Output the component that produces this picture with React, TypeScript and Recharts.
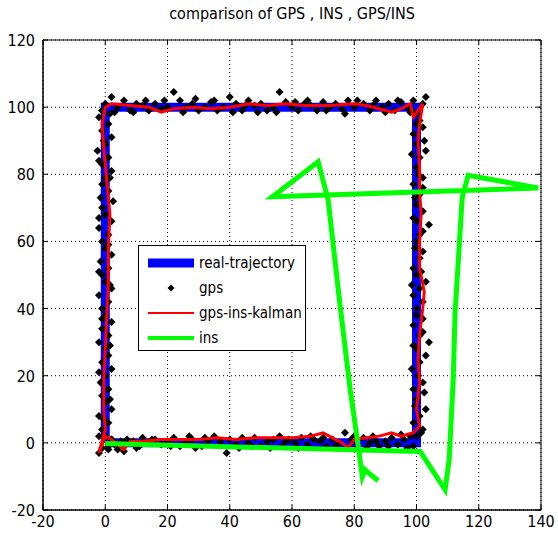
import React from 'react';
import {
  ScatterChart, Scatter, XAxis, YAxis, CartesianGrid, ReferenceArea, Legend,
} from 'recharts';

const xTicks = [-20, 0, 20, 40, 60, 80, 100, 120, 140];
const yTicks = [-20, 0, 20, 40, 60, 80, 100, 120];

// true path
const realPath = [[0, 0], [100, 0], [100, 100], [0, 100], [0, 0]];

// gps fixes, one list per side of the square
const gpsBottom = [
  [-2, -3], [-1, -1.5], [0, 2], [1, -2], [2, 1], [3, -0.5], [4, -2], [6, -2.5], [7, 1], [9, 0.5],
  [11, -1], [12, 1.5], [14, 0], [16, 1], [18, -0.5], [20, 0.5], [22, 1.5], [24, -1], [26, 0], [28, 1],
  [29, -1.5], [31, -1], [33, 0.5], [35, 2], [37, 0.5], [39, -3], [40, 1], [42, -0.5], [44, 1.5], [46, 0],
  [48, 1.5], [50, -1], [52, 0.5], [54, 1], [56, 2], [57, -1], [59, 1], [61, 0], [63, 1.5], [65, -0.5],
  [67, 1], [69, 0.5], [71, -1], [73, 1], [75, 0], [77, 3], [79, 1], [81, -1], [83, 1.5], [85, 0],
  [86, 2], [88, -1], [90, 0.5], [92, 1.5], [94, -0.5], [96, 1], [98, 2], [99, -1],
  [5, 0.5], [10, -1.5], [15, 1], [21, -1], [27, 2], [32, 1.5], [43, -1.5], [47, -1], [53, -1.5], [58, 0.5],
  [62, -1.5], [66, 2], [70, 1.5], [74, -1], [80, 2], [84, -1.5], [87, 0.5], [91, -1], [95, 2.5], [97, -1.5],
];
const gpsRight = [
  [100, 2], [102, 4], [99, 6], [101, 8], [103, 10], [100, 13], [99, 16], [102, 18], [98.5, 22], [101, 24],
  [103, 26], [100, 28], [104, 30], [101, 32], [99, 35], [102, 37], [100, 40], [102, 42], [99, 44], [101, 46],
  [103, 48], [100, 50], [99, 52], [101, 55], [102, 57], [100, 60], [101, 62], [104, 65], [99, 67], [102, 69],
  [100, 71], [101, 74], [99, 77], [102, 79], [100, 82], [101, 85], [103, 87], [100, 89], [99, 92], [102, 94],
  [101, 96], [100, 98], [102, 101], [103, 103],
  [101.5, 3], [99.5, 11], [102.5, 15], [100.5, 20], [99, 29], [102, 33], [100, 38], [98.5, 47], [101.5, 51],
  [99.5, 58], [102, 63], [100, 66], [99.5, 73], [102, 76], [100.5, 80], [98.5, 86], [102.5, 90], [100, 95], [98.5, 99],
];
const gpsTop = [
  [99, 102], [97, 100], [95, 101.5], [93, 99], [91, 101], [89, 100], [87, 102], [85, 99], [83, 101], [80, 100],
  [78, 102], [76, 99.5], [74, 101], [72, 100], [70, 101.5], [68, 99], [66, 100.5], [64, 101], [62, 99], [60, 100],
  [58, 101.5], [56, 104.5], [54, 100], [52, 99], [50, 101], [48, 100.5], [46, 102], [44, 99], [42, 101], [40, 103],
  [38, 100], [36, 99], [34, 101.5], [32, 100], [30, 99], [28, 101], [26, 100], [24, 102], [22, 104.5], [20, 100],
  [18, 99.5], [16, 101], [14, 99], [12, 100.5], [10, 101], [8, 99], [6, 102], [4, 100], [2, 103], [0, 101], [-1, 99],
  [98, 98.5], [94, 102], [90, 98.5], [86, 100.5], [81, 102], [77, 98], [71, 99], [65, 102], [61, 101.5], [55, 98.5],
  [49, 98.5], [45, 100.5], [41, 98.5], [35, 102], [29, 102.5], [25, 98.5], [19, 102], [13, 102], [9, 98.5], [3, 98.5],
];
const gpsLeft = [
  [-2, 97], [1, 95], [-1, 93], [2, 91], [0, 89], [-2.5, 87], [1, 85], [-1, 83], [2, 81], [0, 79],
  [-1, 77], [1, 75], [2.5, 72], [-1, 70], [0, 68], [2, 66], [-2, 64], [1, 62], [-1, 60], [0, 58],
  [2, 56], [-1.5, 54], [1, 52], [-1, 50], [0, 48], [2, 46], [-2, 44], [1, 42], [-1, 40], [0, 38],
  [2, 36], [-1, 34], [1, 32], [-2, 30], [0, 28], [1, 26], [-1, 24], [2, 22], [0, 20], [-1.5, 18],
  [1, 16], [-1, 14], [0, 12], [2, 10], [-2, 8], [1, 6], [-1, 4], [0, 2], [2, 1],
  [-1, 99], [1.5, 98], [-0.5, 90], [-2, 84], [1.5, 79], [-1.5, 73], [-2, 67], [1, 59], [-2, 51], [1.5, 47],
  [-1, 37], [1.5, 29], [-2, 21], [1.5, 13], [-0.5, 7], [-2, 2], [1, -1],
];

// filtered estimate
const kalmanPath = [
  [-2, -3], [0, 2], [2, 1], [4, -0.5], [6, -2], [8, 0.5], [12, 0.5], [18, 1], [24, 1], [30, 1],
  [36, 1.5], [42, 1], [48, 1.5], [54, 1.5], [60, 1.5], [66, 2], [70, 3], [73, 1.5], [76, 0], [78, -1.5],
  [80, 1], [84, 1.5], [88, 2], [92, 3], [95, 2], [99, 3], [101, 5], [100, 10], [101, 18], [100.5, 25],
  [101, 32], [102, 40], [102.5, 45], [101, 52], [101, 60], [101.5, 68], [101, 75], [101, 82], [100.5, 90], [101, 95],
  [102, 101], [99, 97], [98, 101], [95, 99.5], [92, 98.5], [88, 99.5], [84, 100.5], [80, 101], [72, 100.5], [64, 100.5],
  [58, 101], [52, 100.5], [46, 101], [40, 100], [34, 99.5], [28, 100], [22, 99.5], [18, 98.5], [14, 100], [8, 100.5],
  [2, 101], [0, 100], [-1, 95], [-0.5, 88], [0.5, 78], [1.5, 68], [1, 58], [1, 48], [0.5, 38], [0, 28],
  [-0.5, 18], [-0.5, 10], [0, 4], [-2, -3],
];

// ins only
const insPath = [
  [0, -0.2], [101.2, -2.6], [109.2, -14], [110.5, -5], [111.8, 18.8], [112.4, 38.7], [114.7, 73.2], [116.6, 79.7],
  [121.4, 78.9], [139.1, 75.9], [53.7, 73.3], [68.4, 83.7], [71.6, 72.4], [75.5, 40.5], [78.7, 15.8], [81, 0.9],
  [82.6, -10.1], [83.5, -8], [84.5, -8.9], [87.7, -11.3],
];

const pts = (a: number[][]) => a.map(([x, y]) => ({ x, y }));
const gpsData = pts([...gpsBottom, ...gpsRight, ...gpsTop, ...gpsLeft]);

const FONT = '"Liberation Sans Narrow", "DejaVu Sans Condensed", "Liberation Sans", Arial, sans-serif';
const noDot = () => <g />;

const Diamond = (props: any) => {
  const { cx, cy } = props;
  const r = 4;
  return <polygon points={`${cx},${cy - r} ${cx + r},${cy} ${cx},${cy + r} ${cx - r},${cy}`} fill="#000" />;
};

const XTick = (props: any) => {
  const { x, y, payload } = props;
  return (
    <g>
      <line x1={x} y1={510} x2={x} y2={505} stroke="#000" />
      <line x1={x} y1={40} x2={x} y2={45} stroke="#000" />
      <text x={x} y={y + 13} textAnchor="middle" fontSize={16} fontFamily={FONT} fill="#000">{payload.value}</text>
    </g>
  );
};

const YTick = (props: any) => {
  const { x, y, payload } = props;
  return (
    <g>
      <line x1={43} y1={y} x2={48} y2={y} stroke="#000" />
      <line x1={541} y1={y} x2={536} y2={y} stroke="#000" />
      <text x={x} y={y + 6} textAnchor="end" fontSize={16} fontFamily={FONT} fill="#000">{payload.value}</text>
    </g>
  );
};

const legendItems = [
  { name: 'real-trajectory', kind: 'line', color: '#0000ff', w: 9 },
  { name: 'gps', kind: 'dot', color: '#000', w: 0 },
  { name: 'gps-ins-kalman', kind: 'line', color: '#ff0000', w: 2 },
  { name: 'ins', kind: 'line', color: '#00ff00', w: 4 },
];

const LegendBox = () => (
  <div style={{
    width: 168, height: 106, border: '1px solid #000', background: '#fff',
    fontFamily: FONT, fontSize: 15, boxSizing: 'border-box', paddingTop: 4,
  }}>
    {legendItems.map((it) => (
      <div key={it.name} style={{ display: 'flex', alignItems: 'center', height: 25 }}>
        <svg width={60} height={20}>
          {it.kind === 'line' ? (
            <line x1={9} y1={10} x2={55} y2={10} stroke={it.color} strokeWidth={it.w} />
          ) : (
            <polygon points="32,6.5 35.5,10 32,13.5 28.5,10" fill="#000" />
          )}
        </svg>
        <span>{it.name}</span>
      </div>
    ))}
  </div>
);

export default function App() {
  return (
    <div style={{ position: 'absolute', left: 0, top: 0, width: 558, height: 535, background: '#fff' }}>
      <div style={{
        position: 'absolute', left: 43, width: 498, top: 4, textAlign: 'center',
        fontFamily: FONT, fontSize: 16, color: '#000',
      }}>
        comparison of GPS , INS , GPS/INS
      </div>
      <ScatterChart width={558} height={535} margin={{ top: 40, right: 17, bottom: 0, left: 0 }}>
        <CartesianGrid stroke="#000" strokeDasharray="1 3" />
        <XAxis type="number" dataKey="x" domain={[-20, 140]} ticks={xTicks} height={25}
          allowDataOverflow tickSize={0} tickMargin={4} tick={<XTick />} axisLine={{ stroke: '#000' }} />
        <YAxis type="number" dataKey="y" domain={[-20, 120]} ticks={yTicks} width={43}
          allowDataOverflow tickSize={0} tickMargin={8} tick={<YTick />} axisLine={{ stroke: '#000' }} />
        <Scatter name="real-trajectory" data={pts(realPath)} line={{ stroke: '#0000ff', strokeWidth: 9 }}
          shape={noDot} isAnimationActive={false} legendType="none" />
        <Scatter name="gps" data={gpsData} shape={<Diamond />} isAnimationActive={false} legendType="none" />
        <Scatter name="gps-ins-kalman" data={pts(kalmanPath)} line={{ stroke: '#ff0000', strokeWidth: 3 }}
          shape={noDot} isAnimationActive={false} legendType="none" />
        <Scatter name="ins" data={pts(insPath)} line={{ stroke: '#00ff00', strokeWidth: 5 }}
          shape={noDot} isAnimationActive={false} legendType="none" />
        <ReferenceArea x1={-20} x2={140} y1={-20} y2={120} fill="none" stroke="#000" strokeWidth={1} ifOverflow="visible" />
        <Legend layout="vertical" align="center" verticalAlign="middle" content={<LegendBox />}
          wrapperStyle={{ position: 'absolute', left: 138, top: 245, width: 170, height: 108 }} />
      </ScatterChart>
    </div>
  );
}
